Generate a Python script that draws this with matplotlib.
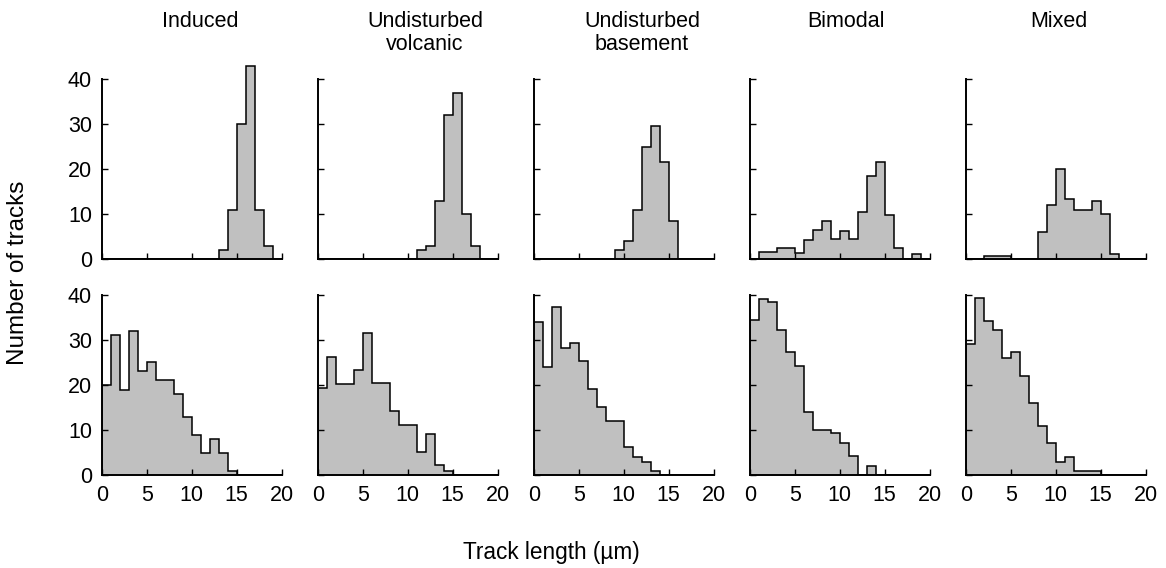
import numpy as np
import matplotlib
matplotlib.use("Agg")
import matplotlib.pyplot as plt

plt.rcParams["font.family"] = ["Liberation Sans", "DejaVu Sans"]

# ── Data: counts per 1 µm bin, 0–20 µm ────────────────────────────────────────
edges = np.arange(0, 21, 1)

titles = ["Induced", "Undisturbed\nvolcanic", "Undisturbed\nbasement", "Bimodal", "Mixed"]

induced_top = [0, 0, 0, 0, 0, 0, 0, 0, 0, 0, 0, 0, 0, 2, 11, 30, 43, 11, 3, 0]
volcanic_top = [0, 0, 0, 0, 0, 0, 0, 0, 0, 0, 0, 2, 3, 13, 32, 37, 10, 3, 0, 0]
basement_top = [0, 0, 0, 0, 0, 0, 0, 0, 0, 2, 4, 11, 25, 29.5, 21.5, 8.5, 0, 0, 0, 0]
bimodal_top = [0, 1.5, 1.5, 2.5, 2.5, 1.3, 4.3, 6.4, 8.4, 4.5, 6.2, 4.4, 10.5, 18.5, 21.6, 9.7, 2.5, 0, 1.2, 0]
mixed_top = [0, 0, 0.7, 0.7, 0.7, 0, 0, 0, 5.9, 11.9, 20.1, 13.3, 10.9, 10.9, 12.9, 10.1, 1.2, 0, 0, 0]

induced_bot = [20, 31, 19, 32, 23, 25, 21, 21, 18, 13, 9, 5, 8, 5, 1, 0, 0, 0, 0, 0]
volcanic_bot = [19.3, 26.3, 20.3, 20.3, 23.3, 31.5, 20.5, 20.5, 14.3, 11.2, 11.2, 5.1, 9.1, 2.3, 0.9, 0, 0, 0, 0, 0]
basement_bot = [34, 24, 37.3, 28.3, 29.4, 25.3, 19.1, 15.1, 12, 12, 6.2, 3.9, 3, 0.8, 0, 0, 0, 0, 0, 0]
bimodal_bot = [34.4, 39.2, 38.5, 32.3, 27.4, 24.2, 14.1, 10.1, 10.1, 9.3, 7.1, 4.2, 0, 2, 0, 0, 0, 0, 0, 0]
mixed_bot = [29.1, 39.3, 34.3, 32.2, 26.1, 27.3, 22.1, 16.1, 11, 7.1, 3, 4.1, 1, 1, 1, 0, 0, 0, 0, 0]

top_row = [induced_top, volcanic_top, basement_top, bimodal_top, mixed_top]
bot_row = [induced_bot, volcanic_bot, basement_bot, bimodal_bot, mixed_bot]

# ── Figure ────────────────────────────────────────────────────────────────────
W, H = 1166, 568
fig = plt.figure(figsize=(W / 100, H / 100), dpi=100)

x0s = [101.7 + 216 * i for i in range(5)]
ax_w = 180 / W
ax_h = 202.5 / H
row_bottoms = [(H - 259) / H, (H - 475) / H]

for r, row in enumerate([top_row, bot_row]):
    for c, counts in enumerate(row):
        ax = fig.add_axes([x0s[c] / W, row_bottoms[r], ax_w, ax_h])
        ax.patch.set_visible(False)
        ax.stairs(counts, edges, fill=True, color="#c0c0c0", baseline=0)
        ax.stairs(counts, edges, color="black", linewidth=1.1, baseline=0)
        ax.set_xlim(0, 20)
        ax.set_ylim(0, 45)
        ax.spines[["top", "right"]].set_visible(False)
        ax.spines["left"].set_bounds(0, 40)
        for s in ["left", "bottom"]:
            ax.spines[s].set_linewidth(1.4)
        ax.set_xticks([0, 5, 10, 15, 20])
        ax.set_yticks([0, 10, 20, 30, 40])
        ax.tick_params(direction="in", length=4.5, width=1.0, labelsize=15.5)
        ax.tick_params(axis="x", pad=7.5)
        ax.tick_params(axis="y", pad=7)
        if c > 0:
            ax.set_yticklabels([])
        if r == 0:
            ax.set_xticklabels([])

# Column titles, top aligned
title_x = [200, 425, 642, 846, 1059]
for tx, t in zip(title_x, titles):
    fig.text(tx / W, 1 - 11 / H, t, ha="center", va="top",
             fontsize=15.5, linespacing=1.12)

fig.text(18 / W, 1 - 273 / H, "Number of tracks", rotation=90, ha="center", va="center", fontsize=17.5)
fig.text(551 / W, 1 - 553 / H, "Track length (\u00b5m)", ha="center", va="center", fontsize=16.3)

fig.savefig("out.png", dpi=100)
